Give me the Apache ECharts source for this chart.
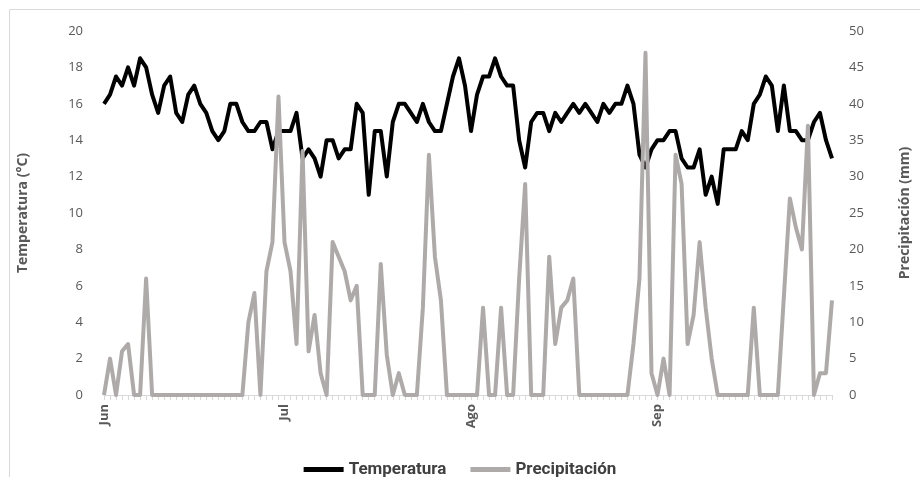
<!DOCTYPE html>
<html>
<head>
<meta charset="utf-8">
<script src="https://cdn.jsdelivr.net/npm/echarts@6/dist/echarts.min.js"></script>
<style>
html,body{margin:0;padding:0;background:#fff;}
#chart{width:920px;height:477px;}
</style>
</head>
<body>
<div id="chart"></div>
<script>
// Month tick labels and lengths (Jun 1 - Sep 30)
var monthLabels = ['Jun', 'Jul', 'Ago', 'Sep'];
var monthDays = [30, 31, 31, 30];

// Daily temperature (°C)
var temperatura = [
  16, 16.5, 17.5, 17, 18, 17, 18.5, 18, 16.5, 15.5,
  17, 17.5, 15.5, 15, 16.5, 17, 16, 15.5, 14.5, 14,
  14.5, 16, 16, 15, 14.5, 14.5, 15, 15, 13.5, 14.5,
  14.5, 14.5, 15.5, 13, 13.5, 13, 12, 14, 14, 13,
  13.5, 13.5, 16, 15.5, 11, 14.5, 14.5, 12, 15, 16,
  16, 15.5, 15, 16, 15, 14.5, 14.5, 16, 17.5, 18.5,
  17, 14.5, 16.5, 17.5, 17.5, 18.5, 17.5, 17, 17, 14,
  12.5, 15, 15.5, 15.5, 14.5, 15.5, 15, 15.5, 16, 15.5,
  16, 15.5, 15, 16, 15.5, 16, 16, 17, 16, 13.2,
  12.5, 13.5, 14, 14, 14.5, 14.5, 13, 12.5, 12.5, 13.5,
  11, 12, 10.5, 13.5, 13.5, 13.5, 14.5, 14, 16, 16.5,
  17.5, 17, 14.5, 17, 14.5, 14.5, 14, 14, 15, 15.5,
  14, 13
];

// Daily precipitation (mm)
var precipitacion = [
  0, 5, 0, 6, 7, 0, 0, 16, 0, 0,
  0, 0, 0, 0, 0, 0, 0, 0, 0, 0,
  0, 0, 0, 0, 10, 14, 0, 17, 21, 41,
  21, 17, 7, 33.5, 6, 11, 3, 0, 21, 19,
  17, 13, 15, 0, 0, 0, 18, 5.5, 0, 3,
  0, 0, 0, 12, 33, 19, 13, 0, 0, 0,
  0, 0, 0, 12, 0, 0, 12, 0, 0, 16,
  29, 0, 0, 0, 19, 7, 12, 13, 16, 0,
  0, 0, 0, 0, 0, 0, 0, 0, 7, 16,
  47, 3, 0, 5, 0, 33, 29, 7, 11, 21,
  12, 5, 0, 0, 0, 0, 0, 0, 12, 0,
  0, 0, 0, 13.5, 27, 23, 20, 37, 0, 3,
  3, 13
];

// Build category list (one per day) and month-start indices
var categories = [];
var monthStart = {};
(function () {
  var idx = 0;
  for (var m = 0; m < monthLabels.length; m++) {
    monthStart[idx] = monthLabels[m];
    for (var d = 1; d <= monthDays[m]; d++) {
      categories.push(d + '-' + monthLabels[m]);
      idx++;
    }
  }
})();

var chart = echarts.init(document.getElementById('chart'), null, {renderer: 'canvas'});
var labelColor = '#595959';
var font = 'Open Sans, Noto Sans, sans-serif';

chart.setOption({
  animation: false,
  backgroundColor: '#ffffff',
  graphic: [{
    type: 'rect',
    shape: {x: 9.5, y: 9.5, width: 930, height: 490},
    style: {fill: 'none', stroke: '#d9d9d9', lineWidth: 1},
    silent: true
  }],
  grid: {left: 104, right: 85, top: 31, bottom: 82},
  legend: {
    top: 456,
    left: 'center',
    itemWidth: 40,
    itemHeight: 5,
    itemGap: 24,
    icon: 'rect',
    textStyle: {color: '#404040', fontSize: 17, fontFamily: 'Roboto, sans-serif', fontWeight: 'bold'},
    data: ['Temperatura', 'Precipitación']
  },
  xAxis: {
    type: 'category',
    data: categories,
    boundaryGap: false,
    axisLine: {show: true, lineStyle: {color: '#d9d9d9', width: 1}},
    axisTick: {show: true, interval: 0, length: 5, inside: false, lineStyle: {color: '#d9d9d9'}},
    axisLabel: {
      interval: function (i) { return monthStart[i] !== undefined; },
      formatter: function (v, i) { return monthStart[i] || ''; },
      rotate: 90,
      margin: 9,
      color: labelColor,
      fontSize: 13,
      fontWeight: 'bold',
      fontFamily: font
    },
    splitLine: {show: false}
  },
  yAxis: [{
    type: 'value',
    min: 0, max: 20, interval: 2,
    position: 'left',
    name: 'Temperatura (°C)',
    nameLocation: 'middle',
    nameRotate: 90,
    nameGap: 74,
    nameTextStyle: {color: labelColor, fontSize: 14, fontWeight: 'bold', fontFamily: font},
    axisLine: {show: false},
    axisTick: {show: false},
    splitLine: {show: false},
    axisLabel: {color: labelColor, fontSize: 13, margin: 21, fontFamily: font}
  }, {
    type: 'value',
    min: 0, max: 50, interval: 5,
    position: 'right',
    name: 'Precipitación (mm)',
    nameLocation: 'middle',
    nameRotate: 90,
    nameGap: 66,
    nameTextStyle: {color: labelColor, fontSize: 14, fontWeight: 'bold', fontFamily: font},
    axisLine: {show: false},
    axisTick: {show: false},
    splitLine: {show: false},
    axisLabel: {color: labelColor, fontSize: 13, margin: 17, fontFamily: font}
  }],
  series: [{
    name: 'Temperatura',
    type: 'line',
    yAxisIndex: 0,
    data: temperatura,
    showSymbol: false,
    symbol: 'none',
    color: '#000000',
    lineStyle: {color: '#000000', width: 4, join: 'round'}
  }, {
    name: 'Precipitación',
    type: 'line',
    yAxisIndex: 1,
    data: precipitacion,
    showSymbol: false,
    symbol: 'none',
    color: '#aeaaaa',
    lineStyle: {color: '#aeaaaa', width: 4, join: 'round'}
  }]
});
</script>
</body>
</html>
